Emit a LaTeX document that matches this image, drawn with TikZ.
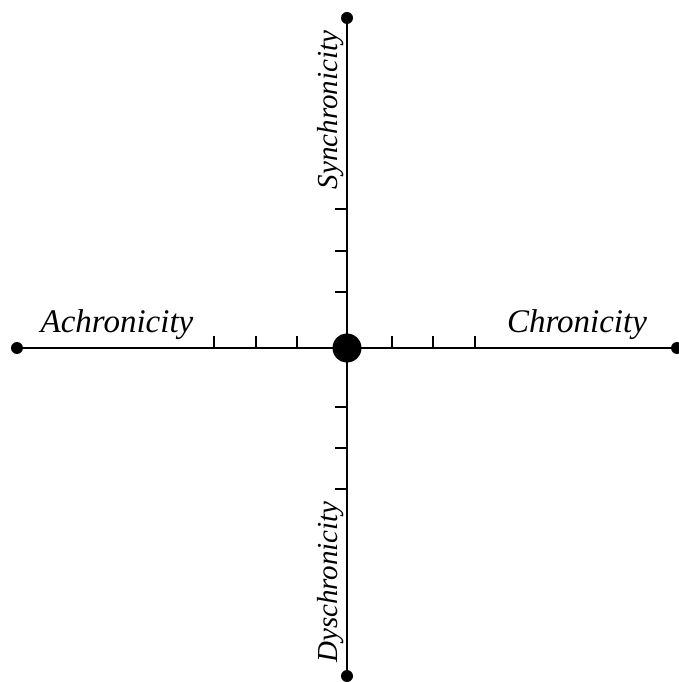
\documentclass[tikz,border=0pt]{standalone}
\usepackage{fontspec}
\setmainfont{Liberation Serif}
\usetikzlibrary{positioning}

\begin{document}
\begin{tikzpicture}[x=1pt,y=1pt,axis/.style={line width=2pt, color=black},enddot/.style={circle, fill=black, inner sep=0pt, minimum size=12pt},tick/.style={line width=1.6pt},lbl/.style={font=\fontsize{33}{33}\selectfont\itshape, anchor=base, inner sep=0pt},vlbl/.style={font=\fontsize{29}{29}\selectfont\itshape, anchor=base, inner sep=0pt, rotate=90}]
\useasboundingbox (-347,-334) rectangle (332,348);
\node[enddot] (left) at (-330,0) {};
\node[enddot] (right) at (330,0) {};
\node[enddot] (top) at (0,330) {};
\node[enddot] (bottom) at (0,-328) {};
\draw[axis] (left.center)--(right.center);
\draw[axis] (bottom.center)--(top.center);
% tick marks
\foreach \t in {45,86,128} \draw[tick] (\t,0)--++(0,12);
\foreach \t in {50,91,133} \draw[tick] (-\t,0)--++(0,12);
\foreach \t in {56,97,139} \draw[tick] (0,\t)--++(-12,0);
\foreach \t in {59,100,141} \draw[tick] (0,-\t)--++(-12,0);
\node[circle, fill=black, inner sep=0pt, minimum size=29pt] (origin) at (0,0) {};
\node[lbl] (achron) at (-230,15) {Achronicity};
\node[lbl] (chron) at (230,15) {Chronicity};
\node[vlbl] (synchron) at (-10,238) {Synchronicity};
\node[vlbl] (dyschron) at (-10,-234) {Dyschronicity};
\end{tikzpicture}
\end{document}
